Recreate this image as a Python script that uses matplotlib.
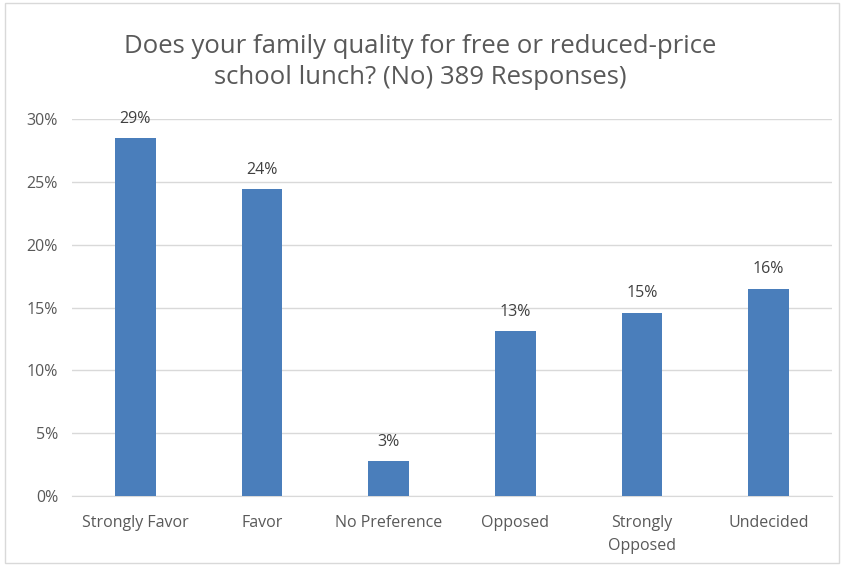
import matplotlib.pyplot as plt
from matplotlib.patches import Rectangle

categories = ["Strongly Favor", "Favor", "No Preference", "Opposed", "Strongly\nOpposed", "Undecided"]
shares = [28.5, 24.4, 2.8, 13.1, 14.6, 16.5]
share_labels = ["29%", "24%", "3%", "13%", "15%", "16%"]
yticks = [0, 5, 10, 15, 20, 25, 30]

text_color = "#595959"
bar_color = "#4a7ebb"

plt.rcParams["font.family"] = ["Open Sans", "DejaVu Sans"]

fig = plt.figure(figsize=(8.41, 5.66), dpi=100)
ax = fig.add_axes([72 / 841, 1 - 496 / 566, 760 / 841, 377 / 566])

x = list(range(len(categories)))
bars = ax.bar(x, shares, width=0.32, color=bar_color, zorder=3)
for rect, lab in zip(bars, share_labels):
    ax.text(rect.get_x() + rect.get_width() / 2, rect.get_height() + 0.9, lab,
            ha="center", va="bottom", fontsize=11.5, color="#404040")

ax.set_xlim(-0.5, len(categories) - 0.5)
ax.set_ylim(0, 30)
ax.set_yticks(yticks)
ax.set_yticklabels([f"{v}%" for v in yticks])
ax.set_xticks(x)
ax.set_xticklabels(categories, linespacing=1.55)
ax.tick_params(axis="both", length=0, labelsize=11.5, labelcolor=text_color)
ax.tick_params(axis="x", pad=14)
ax.tick_params(axis="y", pad=10)
ax.grid(axis="y", color="#d9d9d9", linewidth=1, zorder=0)
for side in ["top", "right", "left"]:
    ax.spines[side].set_visible(False)
ax.spines["bottom"].set_color("#d9d9d9")

fig.text(0.5, 1 - 62 / 566, "Does your family quality for free or reduced-price\nschool lunch? (No) 389 Responses)",
         ha="center", va="center", fontsize=18.5, color=text_color, linespacing=1.35)

fig.patches.append(Rectangle((5 / 841, 3 / 566), 834 / 841, 560 / 566, transform=fig.transFigure,
                             fill=False, edgecolor="#d9d9d9", linewidth=1))

fig.savefig("out.png", dpi=100)
